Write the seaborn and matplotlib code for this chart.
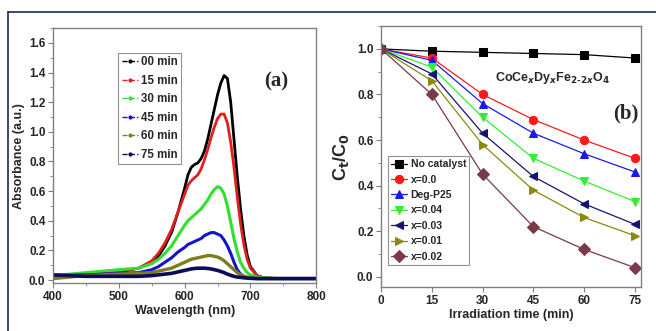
import matplotlib
matplotlib.use("Agg")
import matplotlib.pyplot as plt
from matplotlib.lines import Line2D
from matplotlib.ticker import MultipleLocator
import seaborn as sns

# ---- panel (a): UV-vis spectra ----
wavelength = [400, 450, 500, 530, 550, 560, 570, 580, 590, 600, 605, 610, 615, 620,
              625, 630, 635, 640, 645, 650, 655, 660, 665, 670, 675, 680, 685, 690,
              695, 700, 710, 720, 740, 800]
abs_00 = [0.03, 0.04, 0.055, 0.08, 0.12, 0.16, 0.23, 0.32, 0.46, 0.62, 0.71, 0.76, 0.78, 0.79,
          0.82, 0.87, 0.95, 1.05, 1.15, 1.25, 1.33, 1.38, 1.36, 1.20, 0.95, 0.70, 0.48, 0.30,
          0.17, 0.09, 0.03, 0.015, 0.01, 0.01]
abs_15 = [0.03, 0.04, 0.06, 0.08, 0.13, 0.18, 0.25, 0.34, 0.46, 0.58, 0.64, 0.67, 0.69, 0.71,
          0.75, 0.81, 0.88, 0.96, 1.03, 1.09, 1.12, 1.12, 1.06, 0.93, 0.76, 0.56, 0.38, 0.24,
          0.14, 0.08, 0.03, 0.015, 0.01, 0.01]
abs_30 = [0.03, 0.05, 0.07, 0.08, 0.11, 0.14, 0.18, 0.23, 0.30, 0.37, 0.40, 0.42, 0.44, 0.46,
          0.48, 0.51, 0.54, 0.58, 0.61, 0.63, 0.62, 0.58, 0.50, 0.39, 0.28, 0.19, 0.12, 0.08,
          0.05, 0.035, 0.02, 0.015, 0.01, 0.01]
abs_45 = [0.03, 0.035, 0.045, 0.05, 0.07, 0.09, 0.12, 0.15, 0.19, 0.22, 0.24, 0.25, 0.26, 0.27,
          0.28, 0.30, 0.31, 0.32, 0.32, 0.31, 0.30, 0.27, 0.23, 0.18, 0.12, 0.07, 0.04, 0.025,
          0.015, 0.01, 0.01, 0.01, 0.01, 0.01]
abs_60 = [0.01, 0.03, 0.04, 0.045, 0.05, 0.06, 0.07, 0.08, 0.10, 0.12, 0.13, 0.14, 0.145, 0.15,
          0.155, 0.16, 0.165, 0.165, 0.16, 0.155, 0.145, 0.13, 0.11, 0.09, 0.07, 0.05, 0.035, 0.025,
          0.02, 0.015, 0.01, 0.01, 0.01, 0.01]
abs_75 = [0.035, 0.025, 0.025, 0.025, 0.03, 0.035, 0.04, 0.045, 0.055, 0.065, 0.07, 0.075, 0.078, 0.08,
          0.08, 0.08, 0.078, 0.075, 0.07, 0.065, 0.058, 0.05, 0.04, 0.032, 0.025, 0.02, 0.018, 0.015,
          0.013, 0.012, 0.01, 0.01, 0.01, 0.01]
spectra_labels = ["00 min", "15 min", "30 min", "45 min", "60 min", "75 min"]
spectra_colors = ["#000000", "#e0201e", "#2fe02f", "#1414c8", "#7d7d1e", "#0c0c5a"]

# ---- panel (b): degradation kinetics ----
time_min = [0, 15, 30, 45, 60, 75]
series_labels = ["No catalyst", "x=0.0", "Deg-P25", "x=0.04", "x=0.03", "x=0.01", "x=0.02"]
ct_no_catalyst = [1.0, 0.99, 0.985, 0.98, 0.975, 0.96]
ct_x00 = [1.0, 0.96, 0.80, 0.69, 0.60, 0.52]
ct_p25 = [1.0, 0.95, 0.76, 0.63, 0.54, 0.46]
ct_x004 = [1.0, 0.92, 0.70, 0.52, 0.42, 0.33]
ct_x003 = [1.0, 0.89, 0.63, 0.44, 0.32, 0.23]
ct_x001 = [1.0, 0.86, 0.58, 0.38, 0.26, 0.18]
ct_x002 = [1.0, 0.80, 0.45, 0.22, 0.12, 0.04]
series_colors = ["#000000", "#ff1a1a", "#1a1ae6", "#33ee33", "#151570", "#8a8a10", "#7a3a48"]
series_markers = ["s", "o", "^", "v", "<", ">", "D"]

sns.set_style("ticks")
plt.rcParams["font.family"] = ["Liberation Sans", "DejaVu Sans"]
plt.rcParams["font.weight"] = "bold"

fig = plt.figure(figsize=(6.56, 3.31), dpi=100)
ax1 = fig.add_axes([0.081, 0.145, 0.401, 0.770])
ax2 = fig.add_axes([0.581, 0.133, 0.396, 0.788])

spectra = [abs_00, abs_15, abs_30, abs_45, abs_60, abs_75]
widths = [2.0, 2.0, 2.2, 2.2, 2.4, 2.6]
for vals, lab, col, lw in zip(spectra, spectra_labels, spectra_colors, widths):
    sns.lineplot(x=wavelength, y=vals, ax=ax1, color=col, linewidth=lw, legend=False)

handles = [Line2D([0], [0], color=c, linestyle="--", linewidth=1.0, marker=".",
                  markersize=4) for c in spectra_colors]
leg1 = ax1.legend(handles, spectra_labels, loc="upper left", bbox_to_anchor=(0.225, 0.925),
                  fontsize=8.3, frameon=True, fancybox=False, handlelength=1.4,
                  handletextpad=0.3, borderpad=0.3, labelspacing=0.56)
leg1.get_frame().set_edgecolor("#777777")
leg1.get_frame().set_linewidth(0.8)

ax1.set_xlim(400, 800)
ax1.set_ylim(-0.02, 1.70)
ax1.xaxis.set_major_locator(MultipleLocator(100))
ax1.xaxis.set_minor_locator(MultipleLocator(50))
ax1.yaxis.set_major_locator(MultipleLocator(0.2))
ax1.yaxis.set_minor_locator(MultipleLocator(0.1))
ax1.yaxis.set_major_formatter(matplotlib.ticker.FormatStrFormatter("%.1f"))
ax1.set_xlabel("Wavelength (nm)", fontsize=9, fontweight="bold", labelpad=2)
ax1.set_ylabel("Absorbance (a.u.)", fontsize=9, fontweight="bold", labelpad=3)
ax1.text(0.848, 0.79, "(a)", transform=ax1.transAxes, fontsize=15, fontweight="bold",
         family="Liberation Serif", ha="center", va="center")

data_b = [ct_no_catalyst, ct_x00, ct_p25, ct_x004, ct_x003, ct_x001, ct_x002]
for vals, lab, col, mk in zip(data_b, series_labels, series_colors, series_markers):
    sns.lineplot(x=time_min, y=vals, ax=ax2, color=col, marker=mk, markersize=6,
                 markeredgecolor=col, linewidth=0.9, label=lab)

leg2 = ax2.legend(loc="lower left", bbox_to_anchor=(0.005, 0.065), fontsize=7.5,
                  frameon=True, fancybox=False, handlelength=1.6, handletextpad=0.3,
                  borderpad=0.3, labelspacing=0.52)
leg2.get_frame().set_edgecolor("#777777")
leg2.get_frame().set_linewidth(0.8)

ax2.set_xlim(0, 76.8)
ax2.set_ylim(-0.045, 1.10)
ax2.set_xticks(time_min)
ax2.yaxis.set_major_locator(MultipleLocator(0.2))
ax2.yaxis.set_minor_locator(MultipleLocator(0.1))
ax2.yaxis.set_major_formatter(matplotlib.ticker.FormatStrFormatter("%.1f"))
ax2.set_xlabel("Irradiation time (min)", fontsize=9, fontweight="bold", labelpad=2)
ax2.set_ylabel("C$_\\mathbf{t}$/C$_\\mathbf{0}$", fontsize=13, fontweight="bold", labelpad=4)
ax2.text(0.66, 0.80, "CoCe$_x$Dy$_x$Fe$_{2\\text{-}2x}$O$_4$", transform=ax2.transAxes,
         fontsize=9, ha="center", va="center")
ax2.text(0.942, 0.667, "(b)", transform=ax2.transAxes, fontsize=15, fontweight="bold",
         family="Liberation Serif", ha="center", va="center")

for ax in (ax1, ax2):
    for s in ax.spines.values():
        s.set_color("#808080")
        s.set_linewidth(1.0)
    ax.tick_params(axis="both", which="major", labelsize=8.5, length=3.5, color="#808080", pad=2)
    ax.tick_params(axis="both", which="minor", length=2, color="#808080")
    for t in ax.get_xticklabels() + ax.get_yticklabels():
        t.set_fontweight("bold")

# frame edges of the composite picture
fig.add_artist(Line2D([0.012, 1.0], [0.964, 0.964], color="#1c2a5a", linewidth=1.2))
fig.add_artist(Line2D([0.012, 0.012], [0.0, 0.964], color="#1c2a5a", linewidth=1.2))

fig.savefig("out.png", dpi=100)
